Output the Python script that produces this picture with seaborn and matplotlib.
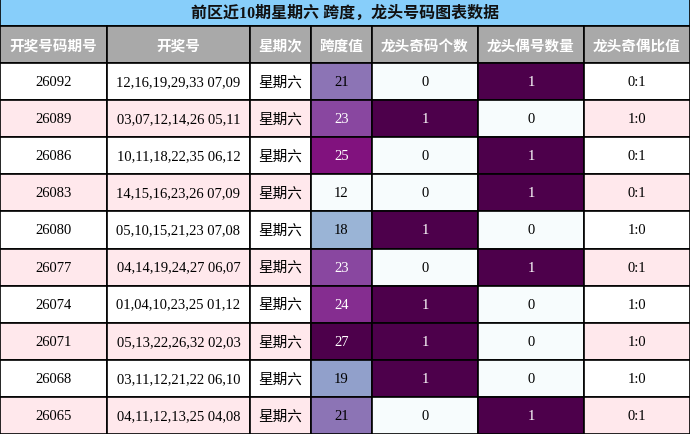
import matplotlib
matplotlib.use("Agg")
import matplotlib.pyplot as plt
import seaborn as sns
import numpy as np
from matplotlib.patches import Rectangle
from matplotlib.colors import Normalize, to_rgb

title = "前区近10期星期六 跨度，龙头号码图表数据"
headers = ["开奖号码期号", "开奖号", "星期次", "跨度值", "龙头奇码个数", "龙头偶号数量", "龙头奇偶比值"]
issues = ["26092", "26089", "26086", "26083", "26080", "26077", "26074", "26071", "26068", "26065"]
draws = ["12,16,19,29,33 07,09", "03,07,12,14,26 05,11", "10,11,18,22,35 06,12",
         "14,15,16,23,26 07,09", "05,10,15,21,23 07,08", "04,14,19,24,27 06,07",
         "01,04,10,23,25 01,12", "05,13,22,26,32 02,03", "03,11,12,21,22 06,10",
         "04,11,12,13,25 04,08"]
weekday = ["星期六"] * 10
span = [21, 23, 25, 12, 18, 23, 24, 27, 19, 21]
odd = [0, 1, 0, 0, 1, 0, 1, 1, 1, 0]
even = [1, 0, 1, 1, 0, 1, 0, 0, 0, 1]
ratio = ["0:1", "1:0", "0:1", "0:1", "1:0", "0:1", "1:0", "1:0", "1:0", "0:1"]

sns.set_theme(style="white")
cjk = ["Noto Sans CJK SC", "DejaVu Sans"]
serif = ["Liberation Serif", "Noto Sans CJK SC"]
plt.rcParams["font.family"] = cjk
cmap = sns.color_palette("BuPu", as_cmap=True)

fig = plt.figure(figsize=(6.9, 4.35), dpi=100)
ax = fig.add_axes([0, 0, 1, 1])
ax.set_xlim(0, 690); ax.set_ylim(435, 0); ax.axis("off")

xs = [0, 107, 250, 311, 372, 478, 584, 690]
title_h = 27; head_h = 37
row_h = (435 - title_h - head_h) / 10
lw = 1.2

ax.add_patch(Rectangle((0, 0), 690, title_h, fc="#87cefa", ec="black", lw=lw))
ax.text(345, title_h / 2, title, ha="center", va="center", fontsize=11.5, fontweight="bold",
        family=["Liberation Serif", "Noto Sans CJK SC"], color="#111")
for i, h in enumerate(headers):
    ax.add_patch(Rectangle((xs[i], title_h), xs[i+1]-xs[i], head_h, fc="#a9a9a9", ec="black", lw=lw))
    ax.text((xs[i]+xs[i+1])/2, title_h + head_h/2, h, ha="center", va="center",
            fontsize=10.5, fontweight="bold", color="white")

def txtcol(c):
    r, g, b = to_rgb(c)
    return "white" if 0.299*r + 0.587*g + 0.114*b < 0.5 else "black"

nspan = Normalize(12, 27)
for r in range(10):
    y = title_h + head_h + r * row_h
    bg = "white" if r % 2 == 0 else "#ffe8ec"
    vals = [issues[r], draws[r], weekday[r], str(span[r]), str(odd[r]), str(even[r]), ratio[r]]
    fcs = [bg, bg, bg, cmap(nspan(span[r])), cmap(float(odd[r])), cmap(float(even[r])), bg]
    for c in range(7):
        ax.add_patch(Rectangle((xs[c], y), xs[c+1]-xs[c], row_h, fc=fcs[c], ec="black", lw=lw))
        fam = cjk if c == 2 else serif
        ax.text((xs[c]+xs[c+1])/2, y + row_h/2, vals[c], ha="center", va="center",
                fontsize=10.5 if c != 2 else 10.5, family=fam, color=txtcol(fcs[c]))

fig.savefig("out.png", dpi=100)
